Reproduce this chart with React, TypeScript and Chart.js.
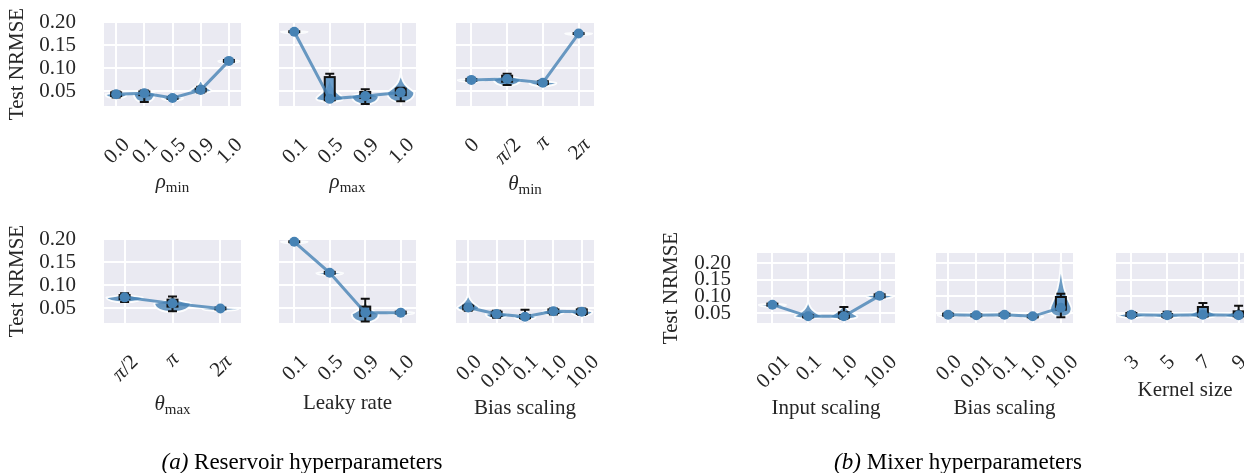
import React, { useEffect, useRef } from "react";
import { Chart, registerables } from "chart.js";
Chart.register(...registerables);

// ---------------- data ----------------
const yTickValues = [0.05, 0.1, 0.15, 0.2];

const rhoMinLabels = ["0.0", "0.1", "0.5", "0.9", "1.0"];
const rhoMinMean = [0.044, 0.046, 0.036, 0.053, 0.116];
const rhoMinBox = [[0.040, 0.048], [0.042, 0.050], [0.034, 0.038], [0.050, 0.056], [0.114, 0.118]];
const rhoMinWhisker = [[0.037, 0.050], [0.027, 0.052], [0.033, 0.040], [0.048, 0.060], [0.113, 0.119]];
const rhoMinViolin = [[0.035, 0.044, 0.052], [0.026, 0.046, 0.054], [0.031, 0.036, 0.041], [0.047, 0.052, 0.080], [0.112, 0.116, 0.120]];

const rhoMaxLabels = ["0.1", "0.5", "0.9", "1.0"];
const rhoMaxMean = [0.179, 0.034, 0.040, 0.048];
const rhoMaxBox = [[0.178, 0.180], [0.031, 0.081], [0.036, 0.049], [0.042, 0.056]];
const rhoMaxWhisker = [[0.177, 0.181], [0.030, 0.088], [0.023, 0.055], [0.029, 0.058]];
const rhoMaxViolin = [[0.176, 0.179, 0.182], [0.028, 0.035, 0.090], [0.022, 0.040, 0.057], [0.027, 0.047, 0.095]];

const thetaMinLabels = ["0", "π/2", "π", "2π"];
const thetaMinMean = [0.075, 0.077, 0.069, 0.175];
const thetaMinBox = [[0.073, 0.077], [0.071, 0.084], [0.066, 0.072], [0.174, 0.176]];
const thetaMinWhisker = [[0.072, 0.078], [0.064, 0.088], [0.064, 0.073], [0.173, 0.177]];
const thetaMinViolin = [[0.071, 0.075, 0.079], [0.062, 0.077, 0.090], [0.062, 0.069, 0.075], [0.172, 0.175, 0.178]];

const thetaMaxLabels = ["π/2", "π", "2π"];
const thetaMaxMean = [0.074, 0.061, 0.050];
const thetaMaxBox = [[0.070, 0.079], [0.054, 0.069], [0.048, 0.052]];
const thetaMaxWhisker = [[0.064, 0.083], [0.044, 0.076], [0.047, 0.053]];
const thetaMaxViolin = [[0.063, 0.074, 0.085], [0.042, 0.061, 0.078], [0.045, 0.050, 0.055]];

const leakyLabels = ["0.1", "0.5", "0.9", "1.0"];
const leakyMean = [0.194, 0.127, 0.041, 0.041];
const leakyBox = [[0.193, 0.195], [0.125, 0.129], [0.034, 0.054], [0.039, 0.043]];
const leakyWhisker = [[0.192, 0.196], [0.124, 0.130], [0.022, 0.071], [0.038, 0.044]];
const leakyViolin = [[0.191, 0.194, 0.197], [0.122, 0.127, 0.132], [0.020, 0.037, 0.075], [0.037, 0.041, 0.045]];

const biasResLabels = ["0.0", "0.01", "0.1", "1.0", "10.0"];
const biasResMean = [0.052, 0.038, 0.032, 0.044, 0.043];
const biasResBox = [[0.048, 0.056], [0.034, 0.043], [0.029, 0.036], [0.040, 0.048], [0.038, 0.048]];
const biasResWhisker = [[0.045, 0.058], [0.030, 0.045], [0.027, 0.047], [0.037, 0.050], [0.036, 0.050]];
const biasResViolin = [[0.044, 0.052, 0.085], [0.028, 0.038, 0.047], [0.026, 0.032, 0.050], [0.035, 0.044, 0.052], [0.034, 0.043, 0.053]];

const inputLabels = ["0.01", "0.1", "1.0", "10.0"];
const inputMean = [0.075, 0.040, 0.040, 0.102];
const inputBox = [[0.072, 0.078], [0.037, 0.043], [0.036, 0.052], [0.097, 0.106]];
const inputWhisker = [[0.071, 0.079], [0.035, 0.045], [0.033, 0.068], [0.095, 0.108]];
const inputViolin = [[0.069, 0.075, 0.081], [0.033, 0.040, 0.092], [0.031, 0.040, 0.088], [0.093, 0.102, 0.110]];

const biasMixLabels = ["0.0", "0.01", "0.1", "1.0", "10.0"];
const biasMixMean = [0.045, 0.043, 0.045, 0.040, 0.066];
const biasMixBox = [[0.042, 0.048], [0.040, 0.046], [0.042, 0.048], [0.037, 0.043], [0.060, 0.098]];
const biasMixWhisker = [[0.040, 0.050], [0.038, 0.048], [0.040, 0.050], [0.035, 0.045], [0.037, 0.108]];
const biasMixViolin = [[0.039, 0.045, 0.051], [0.037, 0.043, 0.049], [0.039, 0.045, 0.051], [0.034, 0.040, 0.046], [0.038, 0.062, 0.222]];

const kernelLabels = ["3", "5", "7", "9"];
const kernelMean = [0.045, 0.043, 0.045, 0.043];
const kernelBox = [[0.041, 0.050], [0.039, 0.047], [0.040, 0.068], [0.040, 0.055]];
const kernelWhisker = [[0.038, 0.052], [0.036, 0.054], [0.038, 0.080], [0.037, 0.072]];
const kernelViolin = [[0.036, 0.045, 0.054], [0.035, 0.043, 0.055], [0.036, 0.045, 0.082], [0.035, 0.043, 0.074]];

// ---------------- styles / layout ----------------
const CW = 1280;
const CH = 473;
const FAMILY = '"Liberation Serif", "Times New Roman", serif';
const FS = 21;
const TEXT = "#262626";
const BG = "#EAEAF2";
const LINE = "rgba(70,130,180,0.8)";
const MARK = "rgb(70,130,180)";
const VIOLIN_FILL = "rgba(70,130,180,0.8)";
const BOX_FILL = "rgba(90,145,195,0.9)";
const BOX_PX = 10;
const CAP_PX = 9;
const VIOLIN_HALF = 0.38;
const Y_AXIS_W = 80;

type Part = { t: string; it?: boolean; sub?: boolean };
type Spec = {
  labels: string[];
  mean: number[];
  box: number[][];
  whisker: number[][];
  violin: number[][];
  rect: [number, number, number, number];
  yMin: number;
  yMax: number;
  showY: boolean;
  yPad: number;
  title: Part[];
  titleBase: number;
  ylabelX?: number;
  caption?: { parts: Part[]; x: number; y: number };
};

const L_COLS: [number, number][] = [[104, 241], [279, 416], [456, 594]];
const R_COLS: [number, number][] = [[757, 895], [936, 1073], [1116, 1254]];
const TOP: [number, number] = [22, 106];
const BOT: [number, number] = [239, 323];
const RB: [number, number] = [253, 323];
const L_MIN = 0.0186, L_MAX = 0.2;
const R_MIN = 0.02, R_MAX = 0.23;

const sub = (g: string, s: string): Part[] => [{ t: g, it: true }, { t: s, sub: true }];

const panels: Spec[] = [
  { labels: rhoMinLabels, mean: rhoMinMean, box: rhoMinBox, whisker: rhoMinWhisker, violin: rhoMinViolin,
    rect: [L_COLS[0][0], TOP[0], L_COLS[0][1], TOP[1]], yMin: L_MIN, yMax: L_MAX, showY: true, yPad: 28,
    title: sub("ρ", "min"), titleBase: 188, ylabelX: 17 },
  { labels: rhoMaxLabels, mean: rhoMaxMean, box: rhoMaxBox, whisker: rhoMaxWhisker, violin: rhoMaxViolin,
    rect: [L_COLS[1][0], TOP[0], L_COLS[1][1], TOP[1]], yMin: L_MIN, yMax: L_MAX, showY: false, yPad: 28,
    title: sub("ρ", "max"), titleBase: 188 },
  { labels: thetaMinLabels, mean: thetaMinMean, box: thetaMinBox, whisker: thetaMinWhisker, violin: thetaMinViolin,
    rect: [L_COLS[2][0], TOP[0], L_COLS[2][1], TOP[1]], yMin: L_MIN, yMax: L_MAX, showY: false, yPad: 28,
    title: sub("θ", "min"), titleBase: 190 },
  { labels: thetaMaxLabels, mean: thetaMaxMean, box: thetaMaxBox, whisker: thetaMaxWhisker, violin: thetaMaxViolin,
    rect: [L_COLS[0][0], BOT[0], L_COLS[0][1], BOT[1]], yMin: L_MIN, yMax: L_MAX, showY: true, yPad: 28,
    title: sub("θ", "max"), titleBase: 410, ylabelX: 17,
    caption: { parts: [{ t: "(a)", it: true }, { t: " Reservoir hyperparameters" }], x: 302, y: 469 } },
  { labels: leakyLabels, mean: leakyMean, box: leakyBox, whisker: leakyWhisker, violin: leakyViolin,
    rect: [L_COLS[1][0], BOT[0], L_COLS[1][1], BOT[1]], yMin: L_MIN, yMax: L_MAX, showY: false, yPad: 28,
    title: [{ t: "Leaky rate" }], titleBase: 409 },
  { labels: biasResLabels, mean: biasResMean, box: biasResBox, whisker: biasResWhisker, violin: biasResViolin,
    rect: [L_COLS[2][0], BOT[0], L_COLS[2][1], BOT[1]], yMin: L_MIN, yMax: L_MAX, showY: false, yPad: 28,
    title: [{ t: "Bias scaling" }], titleBase: 414 },
  { labels: inputLabels, mean: inputMean, box: inputBox, whisker: inputWhisker, violin: inputViolin,
    rect: [R_COLS[0][0], RB[0], R_COLS[0][1], RB[1]], yMin: R_MIN, yMax: R_MAX, showY: true, yPad: 26,
    title: [{ t: "Input scaling" }], titleBase: 414, ylabelX: 671,
    caption: { parts: [{ t: "(b)", it: true }, { t: " Mixer hyperparameters" }], x: 958, y: 469 } },
  { labels: biasMixLabels, mean: biasMixMean, box: biasMixBox, whisker: biasMixWhisker, violin: biasMixViolin,
    rect: [R_COLS[1][0], RB[0], R_COLS[1][1], RB[1]], yMin: R_MIN, yMax: R_MAX, showY: false, yPad: 26,
    title: [{ t: "Bias scaling" }], titleBase: 414 },
  { labels: kernelLabels, mean: kernelMean, box: kernelBox, whisker: kernelWhisker, violin: kernelViolin,
    rect: [R_COLS[2][0], RB[0], R_COLS[2][1], RB[1]], yMin: R_MIN, yMax: R_MAX, showY: false, yPad: 26,
    title: [{ t: "Kernel size" }], titleBase: 396 },
];

// ---------------- drawing helpers ----------------
function font(p: Part, size = FS) {
  return `${p.it ? "italic " : ""}${size}px ${FAMILY}`;
}

function splitPi(label: string): Part[] {
  const out: Part[] = [];
  for (const ch of label) {
    const it = ch === "π";
    const last = out[out.length - 1];
    if (last && !!last.it === it) last.t += ch;
    else out.push({ t: ch, it });
  }
  return out;
}

function drawRotated(ctx: CanvasRenderingContext2D, label: string, cx: number, top: number) {
  const parts = splitPi(label);
  let w = 0, asc = 0, desc = 0;
  const widths: number[] = [];
  parts.forEach((p) => {
    ctx.font = font(p);
    const m = ctx.measureText(p.t);
    widths.push(m.width);
    w += m.width;
    asc = Math.max(asc, m.actualBoundingBoxAscent);
    desc = Math.max(desc, m.actualBoundingBoxDescent);
  });
  const h = asc + desc;
  const half = (w + h) / (2 * Math.SQRT2);
  ctx.save();
  ctx.translate(cx, top + half);
  ctx.rotate(-Math.PI / 4);
  ctx.textAlign = "left";
  ctx.textBaseline = "alphabetic";
  let x = -w / 2;
  const yb = (asc - desc) / 2;
  parts.forEach((p, i) => {
    ctx.font = font(p);
    ctx.fillText(p.t, x, yb);
    x += widths[i];
  });
  ctx.restore();
}

function drawParts(ctx: CanvasRenderingContext2D, parts: Part[], cx: number, base: number, size = FS) {
  const subSize = Math.round(size * 0.72);
  const widths = parts.map((p) => {
    ctx.font = font(p, p.sub ? subSize : size);
    return ctx.measureText(p.t).width;
  });
  const total = widths.reduce((a, b) => a + b, 0);
  let x = cx - total / 2;
  ctx.textAlign = "left";
  ctx.textBaseline = "alphabetic";
  parts.forEach((p, i) => {
    ctx.font = font(p, p.sub ? subSize : size);
    ctx.fillText(p.t, x, p.sub ? base + 4 : base);
    x += widths[i];
  });
}

function violinPath(ctx: CanvasRenderingContext2D, cx: number, hw: number, yLo: number, yPk: number, yHi: number) {
  const dLo = yLo - yPk;
  const dHi = yPk - yHi;
  ctx.beginPath();
  ctx.moveTo(cx, yLo);
  ctx.bezierCurveTo(cx + hw * 0.6, yLo, cx + hw, yLo - dLo * 0.45, cx + hw, yPk);
  ctx.bezierCurveTo(cx + hw, yPk - dHi * 0.12, cx + hw * 0.03, yPk - dHi * 0.22, cx, yHi);
  ctx.bezierCurveTo(cx - hw * 0.03, yPk - dHi * 0.22, cx - hw, yPk - dHi * 0.12, cx - hw, yPk);
  ctx.bezierCurveTo(cx - hw, yLo - dLo * 0.45, cx - hw * 0.6, yLo, cx, yLo);
  ctx.closePath();
}

function makePlugin(spec: Spec) {
  return {
    id: "panelDeco",
    beforeDraw(chart: any) {
      const { ctx, chartArea: a } = chart;
      ctx.save();
      ctx.fillStyle = BG;
      ctx.fillRect(a.left, a.top, a.right - a.left, a.bottom - a.top);
      ctx.restore();
    },
    beforeDatasetsDraw(chart: any) {
      const { ctx, chartArea: a } = chart;
      const xs = chart.scales.x;
      const ys = chart.scales.y;
      ctx.save();
      ctx.beginPath();
      ctx.rect(a.left, a.top, a.right - a.left, a.bottom - a.top);
      ctx.clip();
      const hw = Math.abs(xs.getPixelForValue(VIOLIN_HALF) - xs.getPixelForValue(0));
      spec.violin.forEach((v, i) => {
        const cx = xs.getPixelForValue(i);
        violinPath(ctx, cx, hw, ys.getPixelForValue(v[0]), ys.getPixelForValue(v[1]), ys.getPixelForValue(v[2]));
        ctx.fillStyle = VIOLIN_FILL;
        ctx.fill();
        ctx.strokeStyle = "rgba(255,255,255,0.95)";
        ctx.lineWidth = 1.8;
        ctx.stroke();
      });
      spec.box.forEach((b, i) => {
        const cx = xs.getPixelForValue(i);
        const w = spec.whisker[i];
        const yWl = ys.getPixelForValue(w[0]);
        const yWh = ys.getPixelForValue(w[1]);
        const yQ1 = ys.getPixelForValue(b[0]);
        const yQ3 = ys.getPixelForValue(b[1]);
        ctx.strokeStyle = "#111";
        ctx.lineWidth = 2;
        ctx.beginPath();
        ctx.moveTo(cx, yWl); ctx.lineTo(cx, yQ1);
        ctx.moveTo(cx, yQ3); ctx.lineTo(cx, yWh);
        ctx.moveTo(cx - CAP_PX / 2, yWl); ctx.lineTo(cx + CAP_PX / 2, yWl);
        ctx.moveTo(cx - CAP_PX / 2, yWh); ctx.lineTo(cx + CAP_PX / 2, yWh);
        ctx.stroke();
        ctx.fillStyle = BOX_FILL;
        ctx.fillRect(cx - BOX_PX / 2, yQ3, BOX_PX, yQ1 - yQ3);
        ctx.strokeRect(cx - BOX_PX / 2, yQ3, BOX_PX, yQ1 - yQ3);
      });
      ctx.restore();
    },
    afterDraw(chart: any) {
      const { ctx, chartArea: a } = chart;
      const xs = chart.scales.x;
      ctx.save();
      ctx.fillStyle = TEXT;
      spec.labels.forEach((lab, i) => {
        drawRotated(ctx, lab, xs.getPixelForValue(i), a.bottom + 30);
      });
      drawParts(ctx, spec.title, (a.left + a.right) / 2, spec.titleBase);
      if (spec.ylabelX !== undefined) {
        ctx.save();
        ctx.translate(spec.ylabelX, (a.top + a.bottom) / 2);
        ctx.rotate(-Math.PI / 2);
        ctx.font = `${FS}px ${FAMILY}`;
        ctx.textAlign = "center";
        ctx.textBaseline = "middle";
        ctx.fillText("Test NRMSE", 0, 0);
        ctx.restore();
      }
      if (spec.caption) {
        ctx.fillStyle = "#000";
        drawParts(ctx, spec.caption.parts, spec.caption.x, spec.caption.y, 23);
      }
      ctx.restore();
    },
  };
}

function buildConfig(spec: Spec): any {
  const n = spec.labels.length;
  const [l, t, r, b] = spec.rect;
  const yW = spec.showY ? Y_AXIS_W : 0;
  const grid = { color: "#ffffff", lineWidth: 2, drawTicks: false };
  return {
    type: "line",
    data: {
      datasets: [
        {
          data: spec.mean.map((v, i) => ({ x: i, y: v })),
          borderColor: LINE,
          borderWidth: 3,
          pointRadius: 5,
          pointBackgroundColor: MARK,
          pointBorderWidth: 0,
          tension: 0,
          clip: false,
        },
      ],
    },
    options: {
      animation: false,
      responsive: false,
      devicePixelRatio: 1,
      events: [],
      layout: { padding: { left: l - yW, top: t, right: CW - r, bottom: CH - b }, autoPadding: false },
      plugins: { legend: { display: false }, tooltip: { enabled: false }, title: { display: false } },
      scales: {
        x: {
          type: "linear",
          min: -0.43,
          max: n - 0.57,
          afterBuildTicks: (s: any) => {
            s.ticks = spec.labels.map((_, i) => ({ value: i }));
          },
          afterFit: (s: any) => {
            s.height = 0;
            s.paddingLeft = 0;
            s.paddingRight = 0;
          },
          ticks: { display: false },
          grid,
          border: { display: false },
        },
        y: {
          type: "linear",
          min: spec.yMin,
          max: spec.yMax,
          afterBuildTicks: (s: any) => {
            s.ticks = yTickValues.map((v) => ({ value: v }));
          },
          afterFit: (s: any) => {
            s.width = yW;
            s.paddingTop = 0;
            s.paddingBottom = 0;
          },
          ticks: {
            display: spec.showY,
            autoSkip: false,
            padding: spec.yPad,
            color: TEXT,
            font: { family: FAMILY, size: FS },
            callback: (v: number) => Number(v).toFixed(2),
          },
          grid,
          border: { display: false },
        },
      },
    },
    plugins: [makePlugin(spec)],
  };
}

function Panel({ spec }: { spec: Spec }) {
  const ref = useRef<HTMLCanvasElement>(null);
  useEffect(() => {
    const chart = new Chart(ref.current as HTMLCanvasElement, buildConfig(spec));
    return () => chart.destroy();
  }, [spec]);
  return (
    <canvas
      ref={ref}
      width={CW}
      height={CH}
      style={{ position: "absolute", left: 0, top: 0, width: CW, height: CH }}
    />
  );
}

export default function App() {
  return (
    <div
      style={{
        position: "fixed",
        left: 0,
        top: 0,
        width: 1244,
        height: 473,
        overflow: "hidden",
        background: "#fff",
      }}
    >
      {panels.map((p, i) => (
        <Panel key={i} spec={p} />
      ))}
    </div>
  );
}
